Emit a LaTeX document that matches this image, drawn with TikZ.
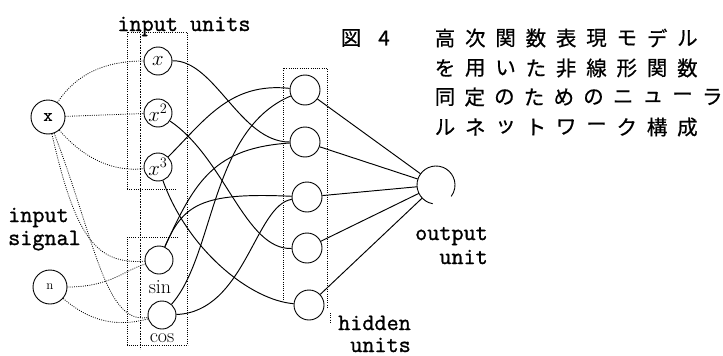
\documentclass[tikz,border=0pt]{standalone}
\usepackage{fontspec}
\newfontfamily\jpfont[FakeBold=0.6]{Noto Sans CJK JP}
\newfontfamily\typer[FakeBold=1.2]{Latin Modern Mono}
\begin{document}
\begin{tikzpicture}[x=1pt,y=-1pt,
  ring/.style={circle,draw,line width=0.9pt,inner sep=0pt},
  srcnode/.style={ring,minimum size=34pt},
  inunit/.style={ring,minimum size=28pt,font=\fontsize{21}{21}\selectfont},
  hidunit/.style={ring,minimum size=30pt},
  wire/.style={line width=0.95pt},
  feed/.style={line width=0.8pt,dash pattern=on 0.9pt off 1.3pt},
  frame/.style={line width=0.6pt,dash pattern=on 0.8pt off 1.4pt},
  axisline/.style={line width=0.7pt,dash pattern=on 2.2pt off 1.3pt on 0.7pt off 1.3pt},
  ttlabel/.style={inner sep=0pt,font=\typer\fontsize{23.5}{24}\selectfont},
  hand/.style={inner sep=0pt,font=\fontsize{20}{20}\selectfont},
  jp/.style={inner sep=0pt,font=\jpfont\fontsize{20.5}{21}\selectfont}]

\useasboundingbox (0,0) rectangle (723,356);

% source signals
\node[srcnode,font=\typer\fontsize{18}{18}\selectfont] (X) at (48,117) {x};
\node[srcnode,font=\fontsize{13}{13}\selectfont] (N) at (50,287) {n};

% input units
\node[inunit] (u1) at (158,61) {$x$};
\node[inunit] (u2) at (158,113) {$x^2$};
\node[inunit] (u3) at (158,167) {$x^3$};
\node[inunit] (us) at (159,260) {};
\node[inunit] (uc) at (162,315) {};
\node[hand] (lsin) at (160,287) {sin};
\node[hand] (lcos) at (162,338) {cos};

% hidden units
\node[hidunit] (h1) at (305,90) {};
\node[hidunit] (h2) at (305,142) {};
\node[hidunit] (h3) at (307,197) {};
\node[hidunit] (h4) at (307,248) {};
\node[hidunit] (h5) at (309,305) {};

% output unit (open circle)
\node[circle,minimum size=38pt,inner sep=0pt] (out) at (436,185) {};
\draw[line width=0.9pt] ([shift={(100:19)}]out.center) arc[start angle=100,end angle=397,radius=19];

% group frames
\draw[frame] (127,189) -- (127,32) -- (187,32) -- (187,345);
\draw[frame] (127,189) -- (176,189);
\draw[frame] (178,237) -- (127,237) -- (127,345) -- (188,345);
\draw[axisline] (140,30) -- (140,349);
\draw[frame] (283,300) -- (283,68) -- (327,68) -- (327,307);
\draw[frame] (330,313) -- (330,323);

% signal distribution to the input units
\draw[feed] (X) .. controls (80,68) and (115,61) .. (u1);
\draw[feed] (X) -- (u2);
\draw[feed] (X) .. controls (85,160) and (115,172) .. (u3);
\draw[feed] (X) .. controls (75,235) and (95,265) .. (us);
\draw[feed] (X) .. controls (95,240) and (105,325) .. (uc);
\draw[feed] (N) .. controls (110,287) and (125,270) .. (us);
\draw[feed] (N) .. controls (88,320) and (115,328) .. (uc);

% input units to hidden units
\draw[wire] (u1) .. controls (215,60) and (240,142) .. (h2);
\draw[wire] (u2) .. controls (225,158) and (245,250) .. (h4);
\draw[wire] (u3) .. controls (205,120) and (230,82) .. (h1);
\draw[wire] (u3) .. controls (188,250) and (250,300) .. (h5);
\draw[wire] (us) .. controls (195,180) and (215,148) .. (h2);
\draw[wire] (us) .. controls (183,205) and (200,192) .. (h3);
\draw[wire] (uc) .. controls (215,255) and (210,130) .. (h1);
\draw[wire] (uc) .. controls (245,312) and (255,205) .. (h3);

% hidden units to output unit
\foreach \h in {h1,h2,h3,h4,h5}
  \draw[wire] (\h) -- (out);

% labels
\node[ttlabel,anchor=base] (tin) at (184,31) {input units};
\node[ttlabel,anchor=base west] (tsig1) at (8,222) {input};
\node[ttlabel,anchor=base west] (tsig2) at (8,245) {signal};
\node[ttlabel,anchor=base east] (tout1) at (488,240) {output};
\node[ttlabel,anchor=base east] (tout2) at (488,264) {unit};
\node[ttlabel,anchor=base east] (thid1) at (411,330) {hidden};
\node[ttlabel,anchor=base east] (thid2) at (411,352) {units};

% caption
\node[jp] (fig) at (351,38) {図};
\node[jp] (fignum) at (384,38) {4};
\foreach \c [count=\i from 0] in {高,次,関,数,表,現,モ,デ,ル}
  \node[jp] (ja\i) at (445+30.3*\i,38) {\c};
\foreach \c [count=\i from 0] in {を,用,い,た,非,線,形,関,数}
  \node[jp] (jb\i) at (445+30.3*\i,68) {\c};
\foreach \c [count=\i from 0] in {同,定,の,た,め,の,ニ,ュ,ー,ラ}
  \node[jp] (jc\i) at (445+29.7*\i,97) {\c};
\foreach \c [count=\i from 0] in {ル,ネ,ッ,ト,ワ,ー,ク,構,成}
  \node[jp] (jd\i) at (445+30.3*\i,127) {\c};
\end{tikzpicture}
\end{document}
